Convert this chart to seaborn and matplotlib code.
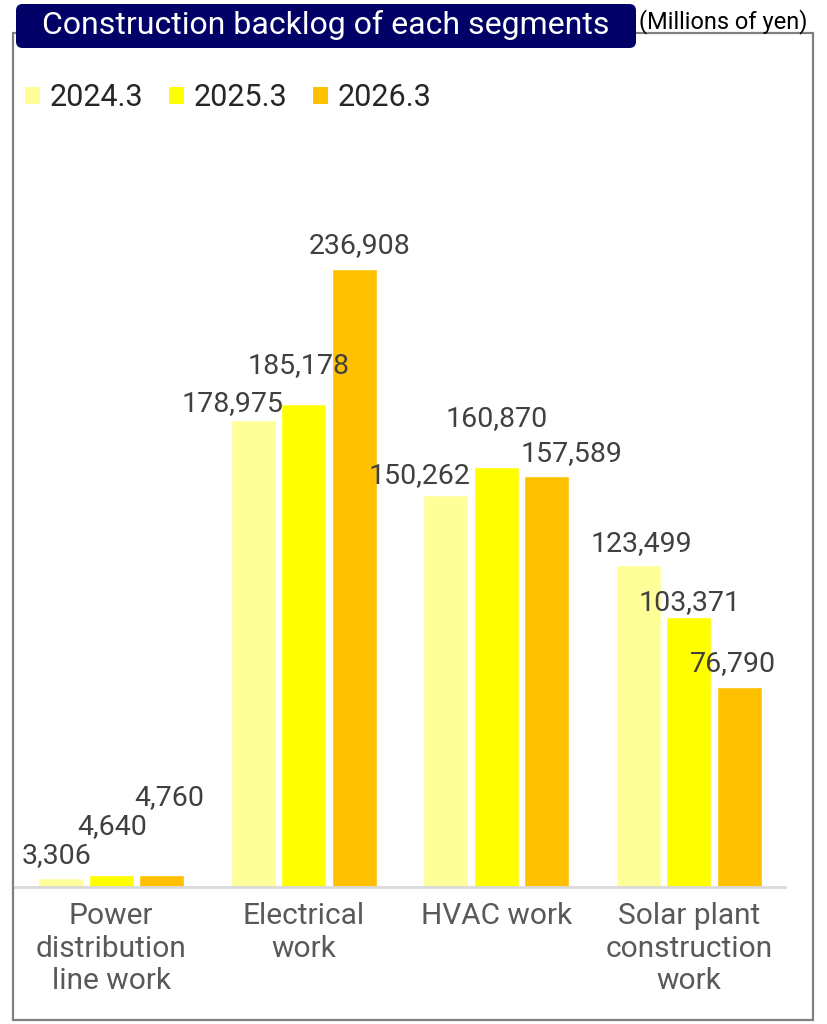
import numpy as np
import pandas as pd
import seaborn as sns
import matplotlib.pyplot as plt
from matplotlib.patches import FancyBboxPatch, Rectangle, Patch

# Segment categories and backlog values (millions of yen)
segments = ["Power\ndistribution\nline work", "Electrical\nwork", "HVAC work",
            "Solar plant\nconstruction\nwork"]
periods = ["2024.3", "2025.3", "2026.3"]
backlog_2024 = [3306, 178975, 150262, 123499]
backlog_2025 = [4640, 185178, 160870, 103371]
backlog_2026 = [4760, 236908, 157589, 76790]
colors = ["#FFFF99", "#FFFF00", "#FFC000"]

# Label nudges (pixels) so neighbouring value labels don't collide
label_nudges = [
    [(-3.5, 23), (-20, 16), (-26, 19), (3, 21)],
    [(0.5, 48), (-5, 38), (0, 49), (1, 15)],
    [(7, 77), (5, 23), (25, 22), (-7, 23)],
]

df = pd.DataFrame({
    "segment": segments * 3,
    "period": np.repeat(periods, len(segments)),
    "value": backlog_2024 + backlog_2025 + backlog_2026,
})

sns.set_theme(style="white")
plt.rcParams["font.family"] = ["Roboto", "DejaVu Sans"]

W, H = 827, 1024
fig = plt.figure(figsize=(W / 100, H / 100), dpi=100)
ax = fig.add_axes([15 / W, 1 - 887 / H, 770 / W, (887 - 140) / H])

sns.barplot(data=df, x="segment", y="value", hue="period", palette=colors,
            saturation=1, width=0.79, gap=0.11, ax=ax, legend=False)

ax.set_ylim(0, 286200)
ax.set_xlim(-0.5, 3.5)
ax.set_xlabel("")
ax.set_ylabel("")
ax.set_yticks([])
for side in ["left", "right", "top"]:
    ax.spines[side].set_visible(False)
ax.spines["bottom"].set_color("#D9D9D9")
ax.spines["bottom"].set_linewidth(2)
ax.tick_params(axis="x", length=0, pad=11, labelsize=21.5, labelcolor="#595959")
for lbl in ax.get_xticklabels():
    lbl.set_linespacing(1.2)
    lbl.set_verticalalignment("top")

# Value labels above each bar
for i, cont in enumerate(ax.containers):
    for j, bar in enumerate(cont):
        val = bar.get_height()
        dx, dy = label_nudges[i][j]
        ax.annotate(f"{val:,.0f}", (bar.get_x() + bar.get_width() / 2, val),
                    xytext=(dx, dy), textcoords="offset pixels",
                    ha="center", va="center", fontsize=20.5, color="#404040")

# Legend
handles = [Patch(facecolor=c, edgecolor="none") for c in colors]
fig.legend(handles, periods, loc="center left", bbox_to_anchor=(25 / W, 1 - 98 / H),
           ncol=3, frameon=False, fontsize=22, handlelength=0.5, handleheight=0.5,
           handletextpad=0.3, columnspacing=0.85, borderaxespad=0, borderpad=0)

# Outer frame and title banner
fig.patches.append(Rectangle((13 / W, 1 - 1020 / H), 800 / W, 987 / H, fill=False,
                             ec="#808080", lw=1.6, transform=fig.transFigure, zorder=0))
fig.patches.append(FancyBboxPatch((16 / W, 1 - 48 / H), 620 / W, 44 / H,
                                  boxstyle="round,pad=0,rounding_size=0.008",
                                  mutation_aspect=W / H,
                                  fc="#000066", ec="none", transform=fig.transFigure,
                                  zorder=2))
fig.text(326 / W, 1 - 25 / H, "Construction backlog of each segments", color="white",
         fontsize=23, ha="center", va="center", zorder=3)
fig.text(639 / W, 1 - 22 / H, "(Millions of yen)", color="black", fontsize=17,
         ha="left", va="center", zorder=3)

fig.savefig("out.png", dpi=100)
